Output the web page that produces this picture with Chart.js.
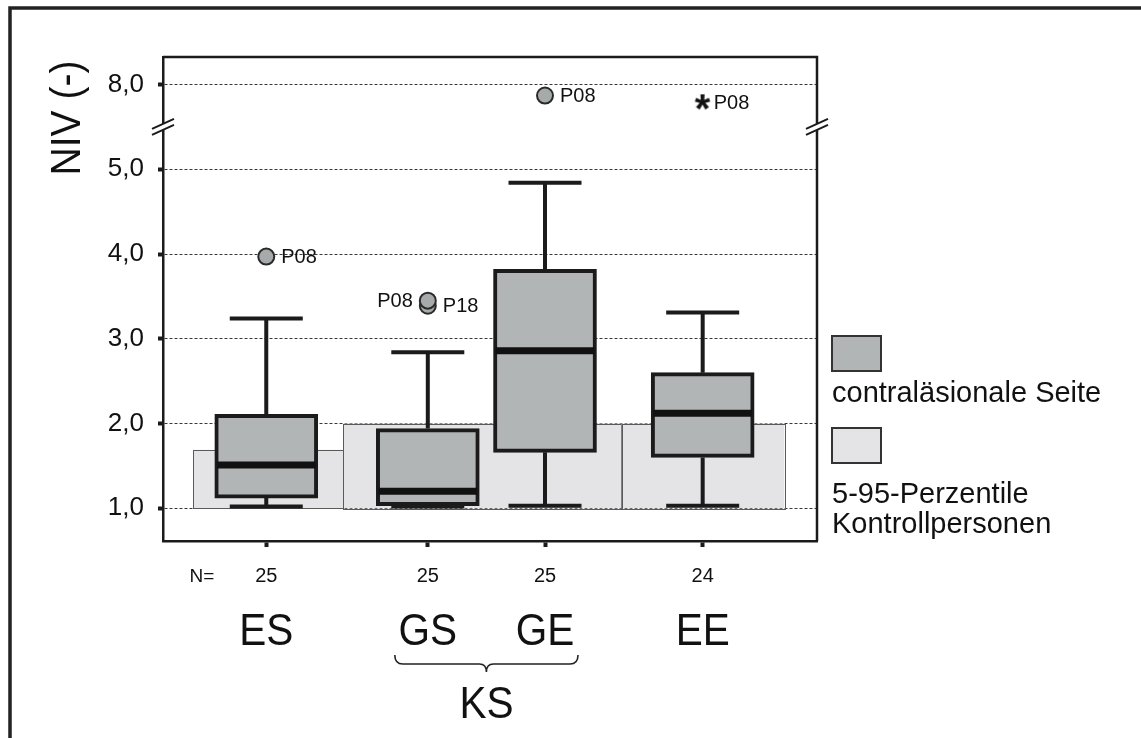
<!DOCTYPE html>
<html>
<head>
<meta charset="utf-8">
<script src="https://cdn.jsdelivr.net/npm/chart.js@4.4.0/dist/chart.umd.min.js"></script>
<style>
  html, body { margin: 0; padding: 0; background: #fff; }
  canvas { display: block; }
</style>
</head>
<body>
<canvas id="niv" width="1141" height="738"></canvas>
<script>
// ---- data -------------------------------------------------------------
const groups = ['ES', 'GS', 'GE', 'EE'];
const groupN = [25, 25, 25, 24];

// box plot summaries, contralesional side
const whiskerLow  = [1.02, 1.02, 1.03, 1.03];
const quartile1   = [1.12, 1.03, 1.66, 1.60];
const medians     = [1.51, 1.20, 2.86, 2.12];
const quartile3   = [2.11, 1.94, 3.82, 2.60];
const whiskerHigh = [3.24, 2.84, 4.84, 3.31];

// outliers (circles)
const outlierGroup = ['ES', 'GS', 'GS', 'GE'];
const outlierValue = [3.97, 3.39, 3.45, 7.87];
const outlierId    = ['P08', 'P18', 'P08', 'P08'];

// extreme values (asterisk)
const extremeGroup = ['EE'];
const extremeValue = [7.79];
const extremeId    = ['P08'];

// 5-95 percentile band of the control persons
const controlLow  = [1.0, 1.0, 1.0];
const controlHigh = [1.69, 2.0, 2.0];

// value axis
const yTickValues = [1, 2, 3, 4, 5, 8];
const yTickLabels = ['1,0', '2,0', '3,0', '4,0', '5,0', '8,0'];

// ---- layout -----------------------------------------------------------
const slotX = [1.579, 4.049, 5.841, 8.252];                 // group positions on the x layout axis
const controlSpan = [[0.464, 2.757], [2.757, 7.014], [7.014, 9.50]];
const outlierLabelSide = ['right', 'right', 'left', 'right'];

// the value axis is broken between 5 and 8: values above the break are shifted down by 2
const BREAK_FROM = 5, BREAK_SHIFT = 2, BREAK_AT = 5.5;
const toAxis = v => (v > BREAK_FROM + 1 ? v - BREAK_SHIFT : v);

const BOX_W = 103, CAP_W = 73;
const INK = '#1b1b1b';
const FONT = '"Liberation Sans", Arial, Helvetica, sans-serif';

const posOf = g => slotX[groups.indexOf(g)];

// asterisk marker for extreme values
function asteriskMarker() {
  const c = document.createElement('canvas');
  c.width = c.height = 26;
  const g = c.getContext('2d');
  g.font = 'bold 40px ' + FONT;
  const m = g.measureText('*');
  const w = m.actualBoundingBoxLeft + m.actualBoundingBoxRight;
  const h = m.actualBoundingBoxAscent + m.actualBoundingBoxDescent;
  g.fillStyle = '#111';
  g.fillText('*', 13 - w / 2 + m.actualBoundingBoxLeft, 13 + h / 2 - m.actualBoundingBoxDescent);
  return c;
}

function text(ctx, str, x, y, size, o = {}) {
  ctx.save();
  ctx.font = (o.weight ? o.weight + ' ' : '') + size + 'px ' + FONT;
  ctx.fillStyle = o.color || '#111';
  ctx.textAlign = o.align || 'center';
  ctx.textBaseline = o.baseline || 'alphabetic';
  ctx.translate(x, y);
  if (o.rotate) ctx.rotate(o.rotate);
  if (o.sx) ctx.scale(o.sx, 1);
  ctx.fillText(str, 0, 0);
  ctx.restore();
}

function breakMark(ctx, x, y) {
  ctx.save();
  ctx.translate(x, y);
  ctx.fillStyle = '#fff';
  ctx.beginPath();
  ctx.moveTo(-11, 2); ctx.lineTo(11, -8); ctx.lineTo(11, -2); ctx.lineTo(-11, 8);
  ctx.closePath();
  ctx.fill();
  ctx.strokeStyle = INK;
  ctx.lineWidth = 2;
  ctx.beginPath();
  ctx.moveTo(-11, 2); ctx.lineTo(11, -8);
  ctx.moveTo(-11, 8); ctx.lineTo(11, -2);
  ctx.stroke();
  ctx.restore();
}

const decor = {
  id: 'decor',
  beforeDraw(chart) {
    const ctx = chart.ctx;
    ctx.save();
    ctx.fillStyle = '#fff';
    ctx.fillRect(0, 0, chart.width, chart.height);
    ctx.restore();
  },
  beforeDatasetsDraw(chart) {
    const ctx = chart.ctx, xs = chart.scales.x, ys = chart.scales.y;
    ctx.save();
    // control percentile bands
    controlSpan.forEach((s, i) => {
      const x1 = xs.getPixelForValue(s[0]), x2 = xs.getPixelForValue(s[1]);
      const yt = ys.getPixelForValue(toAxis(controlHigh[i]));
      const yb = ys.getPixelForValue(toAxis(controlLow[i]));
      ctx.fillStyle = '#e4e4e6';
      ctx.fillRect(x1, yt, x2 - x1, yb - yt);
      ctx.strokeStyle = '#5a5a5a';
      ctx.lineWidth = 1;
      ctx.strokeRect(Math.round(x1) + 0.5, Math.round(yt) + 0.5, Math.round(x2 - x1), Math.round(yb - yt));
    });
    // whiskers
    ctx.strokeStyle = INK;
    ctx.lineWidth = 4;
    groups.forEach((g, i) => {
      const x = xs.getPixelForValue(slotX[i]);
      const yHi = ys.getPixelForValue(toAxis(whiskerHigh[i]));
      const yQ3 = ys.getPixelForValue(toAxis(quartile3[i]));
      const yQ1 = ys.getPixelForValue(toAxis(quartile1[i]));
      const yLo = ys.getPixelForValue(toAxis(whiskerLow[i]));
      ctx.beginPath();
      ctx.moveTo(x, yQ3); ctx.lineTo(x, yHi);
      ctx.moveTo(x - CAP_W / 2, yHi); ctx.lineTo(x + CAP_W / 2, yHi);
      ctx.moveTo(x, yQ1); ctx.lineTo(x, yLo);
      ctx.moveTo(x - CAP_W / 2, yLo); ctx.lineTo(x + CAP_W / 2, yLo);
      ctx.stroke();
    });
    ctx.restore();
  },
  afterDatasetsDraw(chart) {
    const ctx = chart.ctx, xs = chart.scales.x, ys = chart.scales.y, a = chart.chartArea;
    ctx.save();
    // medians
    ctx.strokeStyle = '#111';
    ctx.lineWidth = 7;
    groups.forEach((g, i) => {
      const x = xs.getPixelForValue(slotX[i]);
      const y = ys.getPixelForValue(toAxis(medians[i]));
      ctx.beginPath();
      ctx.moveTo(x - BOX_W / 2 + 2, y); ctx.lineTo(x + BOX_W / 2 - 2, y);
      ctx.stroke();
    });
    // outlier / extreme labels
    const om = chart.getDatasetMeta(0).data;
    om.forEach((el, i) => {
      const right = outlierLabelSide[i] === 'right';
      text(ctx, outlierId[i], el.x + (right ? 15 : -15), el.y + 1, 20,
           { align: right ? 'left' : 'right', baseline: 'middle' });
    });
    const em = chart.getDatasetMeta(1).data;
    em.forEach((el, i) => {
      text(ctx, extremeId[i], el.x + 11, el.y + 1, 20, { align: 'left', baseline: 'middle' });
    });
    // plot frame (top and right), axis breaks
    ctx.strokeStyle = INK;
    ctx.lineWidth = 2.5;
    ctx.beginPath();
    ctx.moveTo(a.left, a.top); ctx.lineTo(a.right, a.top); ctx.lineTo(a.right, a.bottom);
    ctx.stroke();
    const yb = ys.getPixelForValue(BREAK_AT);
    breakMark(ctx, a.left, yb);
    breakMark(ctx, a.right, yb);
    ctx.restore();
  },
  afterDraw(chart) {
    const ctx = chart.ctx, xs = chart.scales.x;
    ctx.save();
    // outer frame
    ctx.strokeStyle = '#222';
    ctx.lineWidth = 3.5;
    ctx.beginPath();
    ctx.moveTo(10, chart.height + 2); ctx.lineTo(10, 8); ctx.lineTo(chart.width + 2, 8);
    ctx.stroke();

    // value axis title
    text(ctx, 'NIV (-)', 80, 118, 42, { rotate: -Math.PI / 2, sx: 0.93 });

    // sample size prefix
    text(ctx, 'N=', 202, 577, 19, { baseline: 'middle' });

    // group names
    groups.forEach((g, i) => {
      text(ctx, g, xs.getPixelForValue(slotX[i]), 645, 45, { sx: 0.9 });
    });

    // brace joining GS and GE
    const x1 = xs.getPixelForValue(posOf('GS')) - 33;
    const x2 = xs.getPixelForValue(posOf('GE')) + 33;
    const mid = (x1 + x2) / 2, yTop = 655, yLine = 664, yTip = 672;
    ctx.strokeStyle = '#222';
    ctx.lineWidth = 1.6;
    ctx.beginPath();
    ctx.moveTo(x1, yTop);
    ctx.quadraticCurveTo(x1, yLine, x1 + 8, yLine);
    ctx.lineTo(mid - 7, yLine);
    ctx.quadraticCurveTo(mid, yLine, mid, yTip);
    ctx.quadraticCurveTo(mid, yLine, mid + 7, yLine);
    ctx.lineTo(x2 - 8, yLine);
    ctx.quadraticCurveTo(x2, yLine, x2, yTop);
    ctx.stroke();
    text(ctx, 'KS', mid, 718, 45, { sx: 0.9 });

    // legend
    ctx.lineWidth = 2;
    ctx.strokeStyle = '#333';
    ctx.fillStyle = '#b2b5b6';
    ctx.fillRect(832, 336, 49, 35);
    ctx.strokeRect(832, 336, 49, 35);
    ctx.fillStyle = '#e4e4e6';
    ctx.fillRect(832, 428, 49, 35);
    ctx.strokeRect(832, 428, 49, 35);
    text(ctx, 'contraläsionale Seite', 832, 402, 29, { align: 'left' });
    text(ctx, '5-95-Perzentile', 832, 503, 29, { align: 'left' });
    text(ctx, 'Kontrollpersonen', 832, 533, 29, { align: 'left' });
    ctx.restore();
  }
};

new Chart(document.getElementById('niv'), {
  type: 'bar',
  data: {
    datasets: [
      {
        type: 'scatter',
        label: 'Ausreißer',
        data: outlierGroup.map((g, i) => ({ x: posOf(g), y: toAxis(outlierValue[i]) })),
        pointStyle: 'circle',
        pointRadius: 8,
        pointHoverRadius: 8,
        backgroundColor: '#a7aaab',
        borderColor: '#2a2a2a',
        borderWidth: 2,
        order: 1
      },
      {
        type: 'scatter',
        label: 'Extremwerte',
        data: extremeGroup.map((g, i) => ({ x: posOf(g), y: toAxis(extremeValue[i]) })),
        pointStyle: asteriskMarker(),
        pointRadius: 8,
        order: 1
      },
      {
        type: 'bar',
        label: 'contraläsionale Seite',
        data: groups.map((g, i) => ({ x: slotX[i], y: [toAxis(quartile1[i]), toAxis(quartile3[i])] })),
        backgroundColor: '#b2b5b6',
        borderColor: INK,
        borderWidth: 4,
        borderSkipped: false,
        barThickness: BOX_W,
        order: 2
      }
    ]
  },
  options: {
    responsive: false,
    animation: false,
    events: [],
    layout: { padding: { left: 0, top: 57, right: 324, bottom: 137 } },
    plugins: { legend: { display: false }, tooltip: { enabled: false } },
    scales: {
      x: {
        type: 'linear',
        min: 0,
        max: 10,
        offset: false,
        afterFit: s => { s.height = 60; },
        afterBuildTicks: s => { s.ticks = slotX.map(v => ({ value: v })); },
        grid: { drawOnChartArea: false, drawTicks: true, tickLength: 6, tickWidth: 4, tickColor: INK, offset: false },
        border: { display: true, color: INK, width: 2.5 },
        ticks: {
          padding: 17,
          color: '#111',
          font: { family: FONT, size: 20 },
          maxRotation: 0,
          autoSkip: false,
          callback: (v, i) => String(groupN[i])
        }
      },
      y: {
        type: 'linear',
        min: 0.614,
        max: 6.325,
        afterFit: s => { s.width = 163; },
        afterBuildTicks: s => { s.ticks = yTickValues.map(v => ({ value: toAxis(v) })); },
        grid: { color: '#3a3a3a', lineWidth: 1, drawTicks: true, tickLength: 5, tickWidth: 4, tickColor: INK },
        border: { display: true, color: INK, width: 2.5, dash: [3, 2] },
        ticks: {
          padding: 14,
          color: '#111',
          font: { family: FONT, size: 26 },
          autoSkip: false,
          callback: (v, i) => yTickLabels[i]
        }
      }
    }
  },
  plugins: [decor]
});
</script>
</body>
</html>
